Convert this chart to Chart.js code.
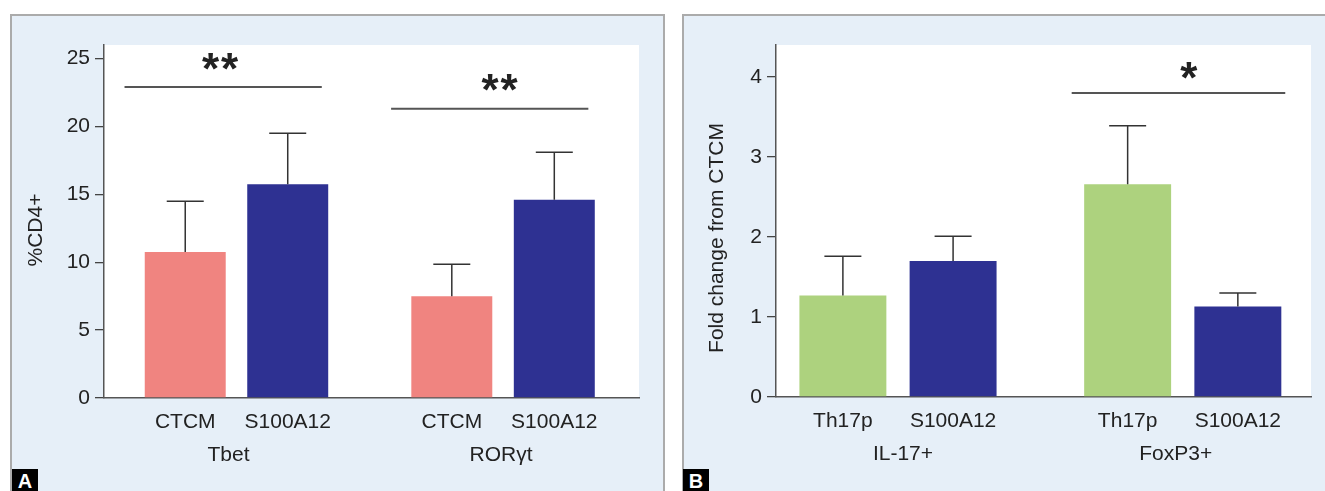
<!DOCTYPE html>
<html>
<head>
<meta charset="utf-8">
<title>CD4+ transcription factors and fold change</title>
<script src="https://cdn.jsdelivr.net/npm/chart.js@4.4.1/dist/chart.umd.min.js"></script>
<style>
  html, body { margin: 0; padding: 0; background: #fff; overflow: hidden; }
  body { position: relative; width: 1325px; height: 491px; font-family: "Liberation Sans", Arial, sans-serif; }
  .panel { position: absolute; top: 14px; height: 490px; background: #e6eff8; border: 2px solid #ababab; border-bottom: none; box-sizing: border-box; }
  #panelA { left: 10px; width: 655px; }
  #panelB { left: 682px; width: 700px; }
  canvas { position: absolute; top: 0; }
  #chartA { left: 0; }
  #chartB { left: 665px; }
  .tag { position: absolute; top: 469px; width: 26px; height: 22px; background: #000; color: #fff;
         font: bold 20px "Liberation Sans", Arial, sans-serif; text-align: center; line-height: 25px; }
</style>
</head>
<body>
<div class="panel" id="panelA"></div>
<div class="panel" id="panelB"></div>
<canvas id="chartA" width="665" height="491"></canvas>
<canvas id="chartB" width="660" height="491"></canvas>
<div class="tag" style="left:12px">A</div>
<div class="tag" style="left:683px">B</div>

<script>
// Panel A: %CD4+ cells per transcription factor
const groupsA = ['Tbet', 'RORγt'];
const barNamesA = ['CTCM', 'S100A12'];
const ctcmA = [10.75, 7.5];
const ctcmErrA = [3.75, 2.35];
const s100a12A = [15.75, 14.6];
const s100a12ErrA = [3.75, 3.5];
const sigLevelA = [22.9, 21.3];
const sigStarsA = ['**', '**'];
const yTicksA = [0, 5, 10, 15, 20, 25];

// Panel B: fold change from CTCM
const groupsB = ['IL-17+', 'FoxP3+'];
const barNamesB = ['Th17p', 'S100A12'];
const th17pB = [1.27, 2.66];
const th17pErrB = [0.49, 0.73];
const s100a12B = [1.70, 1.13];
const s100a12ErrB = [0.31, 0.17];
const sigLevelB = [null, 3.8];
const sigStarsB = ['', '*'];
const yTicksB = [0, 1, 2, 3, 4];

const FONT = '"Liberation Sans", Arial, sans-serif';

// white plot area, error bars, significance bars and the text under the axis
const figureMarks = {
  id: 'figureMarks',
  beforeDraw(chart) {
    const { ctx, chartArea: a } = chart;
    ctx.save();
    ctx.fillStyle = '#fff';
    ctx.fillRect(a.left, a.top, a.right - a.left, a.bottom - a.top);
    ctx.restore();
  },
  afterDatasetsDraw(chart, args, o) {
    const { ctx, scales: { x, y } } = chart;
    ctx.save();
    ctx.strokeStyle = '#333';
    ctx.lineWidth = 1.5;
    chart.data.datasets.forEach((ds, di) => {
      chart.getDatasetMeta(di).data.forEach((bar, i) => {
        const top = y.getPixelForValue(ds.data[i].y + ds.errors[i]);
        ctx.beginPath();
        ctx.moveTo(bar.x, bar.y);
        ctx.lineTo(bar.x, top);
        ctx.moveTo(bar.x - o.capHalf, top);
        ctx.lineTo(bar.x + o.capHalf, top);
        ctx.stroke();
      });
    });

    o.sigLevels.forEach((lvl, i) => {
      if (lvl == null) return;
      const yy = y.getPixelForValue(lvl);
      ctx.strokeStyle = '#555';
      ctx.lineWidth = 2;
      ctx.beginPath();
      ctx.moveTo(x.getPixelForValue(i + 1 + o.sigFrom), yy);
      ctx.lineTo(x.getPixelForValue(i + 1 + o.sigTo), yy);
      ctx.stroke();

      // stars, one glyph at a time so the spacing can be set
      ctx.fillStyle = '#222';
      ctx.font = 'bold 44px ' + FONT;
      ctx.textAlign = 'center';
      ctx.textBaseline = 'alphabetic';
      const chars = o.stars[i].split('');
      const m = ctx.measureText('*');
      const base = yy - o.starLift + (m.actualBoundingBoxAscent - m.actualBoundingBoxDescent) / 2;
      const cx = x.getPixelForValue(i + 1 + o.starShift[i]);
      chars.forEach((c, k) => {
        ctx.fillText(c, cx + (k - (chars.length - 1) / 2) * o.starPitch, base);
      });
    });
    ctx.restore();
  },
  afterDraw(chart, args, o) {
    const { ctx, scales: { x } } = chart;
    ctx.save();
    ctx.fillStyle = '#222';
    ctx.font = '21px ' + FONT;
    ctx.textAlign = 'center';
    ctx.textBaseline = 'middle';
    chart.data.datasets.forEach((ds, di) => {
      chart.getDatasetMeta(di).data.forEach(bar => {
        ctx.fillText(o.barNames[di], bar.x, o.barLabelY);
      });
    });
    o.groups.forEach((g, i) => ctx.fillText(g, x.getPixelForValue(i + 1) + o.groupShift[i], o.groupLabelY));

    ctx.translate(o.titleX, o.titleY);
    ctx.rotate(-Math.PI / 2);
    ctx.fillText(o.yTitle, 0, 0);
    ctx.restore();
  }
};

function buildChart(id, cfg) {
  return new Chart(document.getElementById(id), {
    type: 'bar',
    data: {
      datasets: cfg.series.map(s => ({
        data: s.values.map((v, i) => ({ x: i + 1, y: v })),
        errors: s.errors,
        backgroundColor: s.color,
        borderWidth: 0,
        categoryPercentage: cfg.catPct,
        barPercentage: cfg.barPct
      }))
    },
    plugins: [figureMarks],
    options: {
      responsive: false,
      animation: false,
      layout: { padding: { left: 0, top: 45, right: cfg.padRight, bottom: 0 } },
      plugins: {
        legend: { display: false },
        tooltip: { enabled: false },
        figureMarks: cfg.marks
      },
      scales: {
        x: {
          type: 'linear',
          offset: false,
          min: cfg.xMin,
          max: cfg.xMax,
          afterBuildTicks: s => { s.ticks = cfg.marks.groups.map((g, i) => ({ value: i + 1 })); },
          afterFit: s => { s.height = cfg.xHeight; },
          ticks: { display: false },
          grid: { display: false },
          border: { display: true, color: '#555', width: 1.5 }
        },
        y: {
          min: 0,
          max: cfg.yMax,
          afterBuildTicks: s => { s.ticks = cfg.yTicks.map(v => ({ value: v })); },
          afterFit: s => { s.width = cfg.yWidth; },
          ticks: { padding: 5, color: '#222', font: { family: FONT, size: 21 } },
          grid: { display: true, drawOnChartArea: false, drawTicks: true, tickLength: 9, color: '#444', lineWidth: 1.3 },
          border: { display: true, color: '#555', width: 1.5 }
        }
      }
    }
  });
}

buildChart('chartA', {
  series: [
    { values: ctcmA, errors: ctcmErrA, color: '#f08480' },
    { values: s100a12A, errors: s100a12ErrA, color: '#2e3192' }
  ],
  yTicks: yTicksA, yMax: 26,
  xMin: 0.503, xMax: 2.51,
  catPct: 0.769, barPct: 0.79,
  padRight: 26, yWidth: 104, xHeight: 93,
  marks: {
    groups: groupsA, barNames: barNamesA, yTitle: '%CD4+',
    sigLevels: sigLevelA, stars: sigStarsA,
    sigFrom: -0.42, sigTo: 0.32, starShift: [-0.062, -0.013], starLift: 26, starPitch: 19,
    capHalf: 18.5, barLabelY: 422, groupLabelY: 455, groupShift: [-8, -2],
    titleX: 36, titleY: 230
  }
});

buildChart('chartB', {
  series: [
    { values: th17pB, errors: th17pErrB, color: '#add27e' },
    { values: s100a12B, errors: s100a12ErrB, color: '#2e3192' }
  ],
  yTicks: yTicksB, yMax: 4.4,
  xMin: 0.5716, xMax: 2.4504,
  catPct: 0.774, barPct: 0.789,
  padRight: 14, yWidth: 111, xHeight: 94,
  marks: {
    groups: groupsB, barNames: barNamesB, yTitle: 'Fold change from CTCM',
    sigLevels: sigLevelB, stars: sigStarsB,
    sigFrom: -0.39, sigTo: 0.36, starShift: [0, 0.021], starLift: 23, starPitch: 19,
    capHalf: 18.5, barLabelY: 421, groupLabelY: 454, groupShift: [5, -7],
    titleX: 52, titleY: 238
  }
});
</script>
</body>
</html>
